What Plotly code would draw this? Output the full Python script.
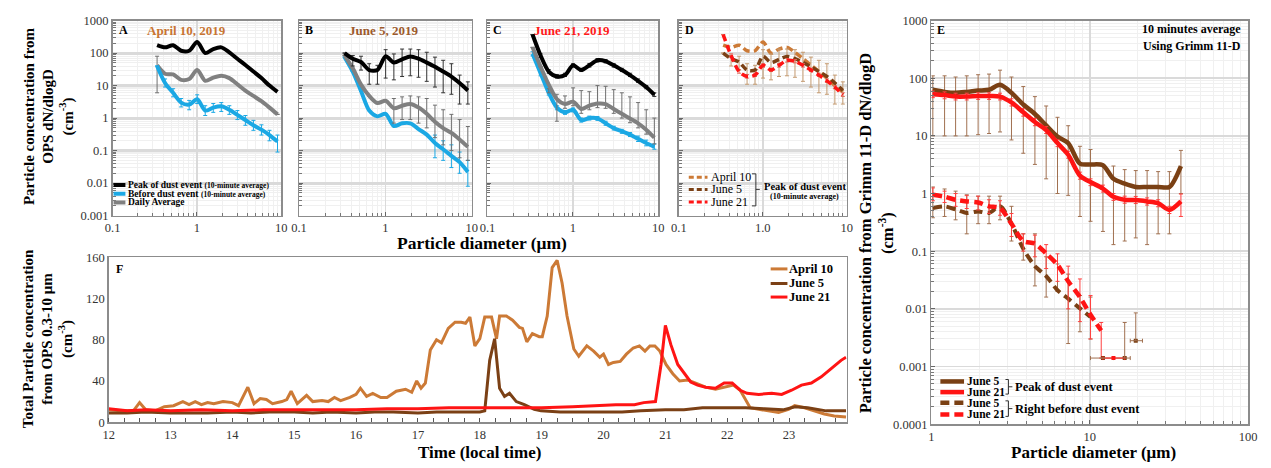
import plotly.graph_objects as go

W, H = 1271, 468
FONT = "Liberation Serif"

def px(x):
    return x / W

def py(y):
    return 1 - y / H

# ---------------- DATA ----------------
ops_d = [0.337, 0.419, 0.522, 0.650, 0.809, 1.007, 1.254, 1.562, 1.944, 2.421,
         3.014, 3.752, 4.672, 5.816, 7.241, 9.016]

# Panel A (April 10, 2019)
A_peak = [175, 150, 175, 118, 118, 220, 100, 133, 150, 105, 67, 43, 27, 17, 10, 6.4]
A_before = [40, 12, 6.0, 3.0, 2.6, 3.8, 1.7, 2.1, 2.3, 1.8, 1.25, 0.87, 0.6, 0.44, 0.3, 0.19]
A_before_hi = [None, 16, 8, 4, 3.5, 5.2, 2.4, 2.8, 3.0, 2.4, 1.7, 1.2, 0.85, 0.62, 0.42, 0.3]
A_before_lo = [None, 9, 4.5, 2.2, 1.8, 2.8, 1.2, 1.5, 1.6, 1.3, 0.9, 0.6, 0.42, 0.3, 0.2, 0.09]
A_daily = [42, 23, 22, 15, 16, 30, 14, 17.5, 20, 17, 11, 7, 4.8, 3.3, 2.1, 1.3]
A_daily_hi = [80] + [None] * 15
A_daily_lo = [6] + [None] * 15

# Panel B (June 5, 2019)
B_peak = [100, 67, 53, 30, 30, 80, 51, 64, 79, 67, 51, 38, 27, 19, 12, 7.1]
B_peak_hi = [None, 84, 80, 47, 42, 127, 94, 133, 133, 127, 106, 75, 60, 47, 21, 13]
B_peak_lo = [None, 40, 30, 11, 11, 17, 15, 19, 20, 18, 13.5, 9, 6, 5.4, 2.7, 2.7]
B_daily = [84, 34, 10.7, 4.8, 2.9, 3.4, 2.0, 2.4, 2.7, 2.1, 1.35, 0.77, 0.49, 0.35, 0.22, 0.13]
B_daily_hi = [None] * 6 + [4.0, 4.5, 4.8, 4.5, 4.0, 2.5, 1.8, 1.3, 0.9, 0.55]
B_daily_lo = [None] * 6 + [0.7, 0.9, 0.9, 0.7, 0.5, 0.25, 0.15, 0.1, 0.06, 0.05]
B_before = [75, 27, 6.8, 1.7, 1.13, 1.35, 0.57, 0.69, 0.69, 0.46, 0.31, 0.17, 0.11, 0.069, 0.044, 0.022]
B_before_hi = [None] * 11 + [0.3, 0.2, 0.15, 0.09, 0.05]
B_before_lo = [None] * 11 + [0.06, 0.05, 0.03, 0.02, 0.008]

# Panel C (June 21, 2019)
C_peak = [372, 84, 27, 19, 21, 42, 30, 42, 60, 56, 42, 30, 21, 14, 9, 5.2]
C_peak_hi = [None, 95, 31, 22, 24, 47, 34, 48, 68, 63, 47, 34, 24, 16, 10, 6]
C_peak_lo = [None, 74, 24, 17, 19, 37, 27, 37, 53, 50, 37, 27, 19, 12.5, 8, 4.6]
C_daily = [150, 38, 10.7, 3.8, 2.7, 3.2, 1.9, 2.4, 2.8, 2.7, 1.9, 1.35, 0.97, 0.69, 0.44, 0.25]
C_daily_hi = [None, None, 6.0, 5.4, 4.8, 8.5, 7, 6.5, 10, 9.5, 7.5, 6, 4.5, 3.0, 1.8, 1.0]
C_daily_lo = [None, None, 8, 0.8, 2.0, 2.4, 1.4, 1.8, 2.1, 2.0, 1.4, 1.0, 0.72, 0.5, 0.32, 0.16]
C_before = [95, 24, 6.0, 2.1, 1.5, 1.8, 0.87, 1.0, 0.98, 0.69, 0.49, 0.39, 0.31, 0.23, 0.17, 0.13]
C_before_hi = [110, 28, 7, 2.4, 1.7, 2.05, 1.0, 1.15, 1.12, 0.8, 0.56, 0.45, 0.36, 0.28, 0.21, 0.16]
C_before_lo = [82, 20, 5.1, 1.8, 1.3, 1.55, 0.75, 0.87, 0.85, 0.6, 0.43, 0.34, 0.27, 0.19, 0.14, 0.11]

# Panel E (Grimm 11-D)
grimm_d = [1.02, 1.21, 1.42, 1.67, 1.97, 2.31, 2.71, 3.2, 3.8, 4.5, 5.3, 6.25, 7.3,
           8.66, 10.1, 12.1, 14.1, 16.6, 19.5, 23, 27, 31.8, 37.6]
E_j5_peak = [63, 58, 56, 58, 61, 63, 77, 56, 35, 24, 15.2, 9.7, 7.5, 3.3, 3.2, 3.1,
             1.8, 1.48, 1.3, 1.3, 1.3, 1.3, 3.0]
E_j5_peak_hi = [110, 110, 105, 110, 115, 118, 138, 105, 72, 48, 33, 21, 15, 6.6, 5.8,
                3.1, 3.0, 2.6, 2.5, 2.5, 2.4, 2.4, 5.6]
E_j5_peak_lo = [10, 10, 10, 10, 10.5, 11, 11.7, 8.5, 5, 3.2, 1.8, 1.0, 0.93, 0.4, 0.33,
                0.22, 0.13, 0.15, 0.17, 0.13, 0.2, 0.2, 1.0]
E_j21_peak = [53, 51, 48, 48, 49, 49, 48, 38, 25.6, 17.4, 12.6, 7.5, 4.7, 2.04, 1.58,
              1.22, 0.88, 0.78, 0.77, 0.73, 0.68, 0.52, 0.73]
E_j21_peak_hi = [60, 58, 55, 55, 56, 56, 55, 44, 29.5, 20, 14.5, 8.6, 5.4, 2.35, 1.8,
                 1.4, 1.0, 0.9, 0.89, 0.84, 0.78, 0.6, 0.98]
E_j21_peak_lo = [46, 44, 42, 42, 43, 43, 42, 33, 22, 15, 11, 6.5, 4.1, 1.77, 1.37,
                 1.06, 0.76, 0.68, 0.67, 0.63, 0.59, 0.45, 0.4]
E_j5_before_d = [1.02, 1.21, 1.42, 1.67, 1.97, 2.31, 2.71, 3.2, 3.8, 4.5, 5.3, 6.25, 7.3, 8.66, 10.1]
E_j5_before = [0.56, 0.6, 0.53, 0.46, 0.49, 0.46, 0.6, 0.3, 0.11, 0.055, 0.037, 0.021, 0.015, 0.0102, 0.0072]
E_j5_before_hi = [1.3, 1.2, 1.1, 0.95, 0.9, 0.9, 0.9, 0.6, 0.2, 0.2, 0.08, 0.06, 0.04, 0.017, 0.016]
E_j5_before_lo = [0.38, 0.4, 0.35, 0.2, 0.3, 0.3, 0.35, 0.15, 0.07, 0.025, 0.016, 0.02, 0.0025, 0.004, 0.003]
E_j21_before_d = [1.02, 1.21, 1.42, 1.67, 1.97, 2.31, 2.71, 3.2, 3.8, 4.5, 5.3, 6.25, 7.3, 8.66, 10.1, 11.8]
E_j21_before = [0.95, 0.88, 0.78, 0.73, 0.70, 0.60, 0.56, 0.3, 0.15, 0.135, 0.091, 0.058, 0.03, 0.016, 0.0079, 0.0042]
E_j21_before_hi = [1.25, 1.1, 1.0, 0.93, 0.9, 0.78, 0.75, 0.45, 0.2, 0.19, 0.13, 0.09, 0.055, 0.033, 0.017, 0.0058]
E_j21_before_lo = [0.75, 0.7, 0.6, 0.55, 0.52, 0.45, 0.42, 0.18, 0.1, 0.08, 0.05, 0.03, 0.01, 0.006, 0.003, 0.0014]
E_j5_iso_d = [12.1, 16.6, 19.5]
E_j5_iso = [0.0014, 0.0014, 0.0028]
E_j5_iso_dlo = [10.1, 14.1, 18.0]
E_j5_iso_dhi = [14.1, 18.0, 21.5]
E_j5_iso_hi = [None, 0.0058, 0.0085]
E_j21_iso_d = [14.1]
E_j21_iso = [0.0014]
E_j21_iso_dlo = [12.1]
E_j21_iso_dhi = [16.6]

# Panel F (time series, local time in hours)
t_apr = [12.0, 12.2, 12.4, 12.5, 12.6, 12.75, 12.9, 13.05, 13.2, 13.3, 13.4, 13.5, 13.6, 13.7,
         13.85, 14.0, 14.1, 14.25, 14.35, 14.45, 14.55, 14.65, 14.8, 14.88, 14.95, 15.05, 15.2,
         15.3, 15.45, 15.55, 15.65, 15.75, 15.9, 16.0, 16.07, 16.17, 16.27, 16.4, 16.5, 16.65,
         16.8, 16.9, 16.98, 17.05, 17.12, 17.2, 17.3, 17.38, 17.49, 17.6, 17.7, 17.77, 17.84,
         17.92, 18.0, 18.08, 18.19, 18.27, 18.32, 18.43, 18.53, 18.64, 18.69, 18.76, 18.85,
         18.96, 19.01, 19.09, 19.17, 19.25, 19.33, 19.41, 19.52, 19.6, 19.73, 19.84, 19.94,
         20.0, 20.08, 20.16, 20.27, 20.37, 20.48, 20.58, 20.67, 20.75, 20.83, 20.91, 21.01,
         21.12, 21.23, 21.36, 21.49, 21.65, 21.81, 21.97, 22.1, 22.21, 22.29, 22.37, 22.51,
         22.67, 22.83, 22.99, 23.09, 23.25, 23.41, 23.57, 23.73, 23.92]
v_apr = [12, 11, 11, 19, 12, 11, 15, 16, 20, 17, 20, 17, 19, 18,
         20, 19, 16, 34, 18, 23, 22, 18, 20, 22, 30, 18, 26,
         20, 21, 20, 24, 21, 24, 27, 33, 25, 28, 24, 24, 30,
         32, 29, 40, 33, 38, 70, 80, 77, 91, 97, 97, 96, 102,
         74, 81, 102, 102, 81, 103, 103, 99, 92, 91, 78, 86,
         83, 83, 103, 150, 157, 135, 103, 71, 64, 74, 69, 63,
         66, 56, 58, 59, 66, 72, 74, 69, 74, 74, 69, 56,
         47, 40, 41, 38, 34, 32, 34, 36, 31, 22, 14, 12.5,
         11, 9.5, 12.5, 16, 14, 11, 8, 6, 5]
t_jun5 = [12.0, 12.3, 12.6, 13.0, 13.3, 13.6, 14.0, 14.3, 14.6, 15.0, 15.3, 15.6, 16.0, 16.3,
          16.6, 17.0, 17.3, 17.6, 18.0, 18.08, 18.16, 18.24, 18.32, 18.4, 18.48, 18.59, 18.72,
          18.88, 18.99, 19.3, 19.6, 20.0, 20.3, 20.6, 21.0, 21.3, 21.6, 22.0, 22.3, 22.6, 22.9,
          23.1, 23.3, 23.6, 23.92]
v_jun5 = [9, 9, 10, 9, 9, 9, 10, 9, 10, 10, 9, 10, 9, 10,
          10, 9, 10, 10, 10, 11, 60, 81, 33, 25, 28, 20, 17,
          12.5, 11, 10, 10, 9.5, 10, 11, 12, 12, 14, 14, 14, 13, 12,
          15, 14, 11, 11]
t_jun21 = [12.0, 12.3, 12.6, 13.0, 13.5, 14.0, 14.5, 15.0, 15.5, 16.0, 16.5, 17.0, 17.5, 18.0,
           18.5, 19.0, 19.5, 19.8, 20.2, 20.5, 20.65, 20.84, 20.93, 21.0, 21.09, 21.2, 21.31,
           21.41, 21.52, 21.65, 21.81, 21.95, 22.08, 22.21, 22.32, 22.51, 22.72, 22.88, 23.04,
           23.2, 23.36, 23.52, 23.68, 23.84, 23.92]
v_jun21 = [13, 11, 12, 11, 12, 11, 12, 12, 12, 12, 13, 13, 14, 14,
           14, 14, 15, 16, 17, 17, 19, 20, 56, 94, 75, 56, 47,
           39, 36, 34, 33, 38, 38, 31, 28, 27, 28, 27, 31,
           36, 38, 44, 52, 60, 63]

# ---------------- STYLE ----------------
BLACK = "#000000"
BLUE = "#1BA8E4"
GRAY = "#808080"
ORANGE = "#CC7A36"
BROWN = "#7B4015"
RED = "#FF1414"
EBROWN = "#A07050"


def errs(v, hi, lo):
    plus = [None if h is None else h - a for a, h in zip(v, hi)]
    minus = [None if l is None else a - l for a, l in zip(v, lo)]
    return plus, minus


def minor_log(e0, e1):
    vals = []
    for e in range(e0, e1):
        for k in range(2, 10):
            vals.append(k * 10 ** e)
    return vals


fig = go.Figure()


def add_line(x, y, color, width, axis, dash=None, hi=None, lo=None, ecolor=None, shape="spline"):
    kw = {}
    if hi is not None:
        p, m = errs(y, hi, lo)
        kw["error_y"] = dict(type="data", symmetric=False, array=p, arrayminus=m,
                             color=ecolor or color, thickness=1, width=2)
    fig.add_trace(go.Scatter(
        x=x, y=y, mode="lines", xaxis="x" + axis, yaxis="y" + axis,
        line=dict(color=color, width=width, shape=shape, smoothing=0.8,
                  dash=dash if dash else "solid"),
        showlegend=False, hoverinfo="skip", **kw))


# Panel A
add_line(ops_d, A_daily, GRAY, 4, "", hi=A_daily_hi, lo=A_daily_lo, ecolor="#707070")
add_line(ops_d, A_before, BLUE, 4, "", hi=A_before_hi, lo=A_before_lo)
add_line(ops_d, A_peak, BLACK, 4, "")
# Panel B
add_line(ops_d, B_before, BLUE, 4, "2", hi=B_before_hi, lo=B_before_lo)
add_line(ops_d, B_daily, GRAY, 4, "2", hi=B_daily_hi, lo=B_daily_lo, ecolor="#707070")
add_line(ops_d, B_peak, BLACK, 4, "2", hi=B_peak_hi, lo=B_peak_lo, ecolor="#333333")
# Panel C
add_line(ops_d, C_before, BLUE, 4, "3", hi=C_before_hi, lo=C_before_lo)
add_line(ops_d, C_daily, GRAY, 4, "3", hi=C_daily_hi, lo=C_daily_lo, ecolor="#707070")
add_line(ops_d, C_peak, BLACK, 4, "3", hi=C_peak_hi, lo=C_peak_lo, ecolor="#333333")
# Panel D
add_line(ops_d, A_peak, ORANGE, 3.5, "4", dash="7px,4px")
add_line(ops_d, B_peak, BROWN, 3.5, "4", dash="7px,4px", hi=B_peak_hi, lo=B_peak_lo, ecolor="#C49A70")
add_line(ops_d, C_peak, RED, 3.5, "4", dash="7px,4px", hi=C_peak_hi, lo=C_peak_lo, ecolor="#E07060")
# Panel E
add_line(grimm_d, E_j5_peak, "#7A4014", 4.5, "5", hi=E_j5_peak_hi, lo=E_j5_peak_lo, ecolor=EBROWN)
add_line(grimm_d, E_j21_peak, RED, 4.5, "5", hi=E_j21_peak_hi, lo=E_j21_peak_lo, ecolor="#FF4040")
add_line(E_j5_before_d, E_j5_before, "#7A4014", 4, "5", dash="9px,5px",
         hi=E_j5_before_hi, lo=E_j5_before_lo, ecolor=EBROWN)
add_line(E_j21_before_d, E_j21_before, RED, 4.5, "5", dash="9px,5px",
         hi=E_j21_before_hi, lo=E_j21_before_lo, ecolor="#FF4040")

for xs, ys, xlo, xhi, col in [(E_j5_iso_d, E_j5_iso, E_j5_iso_dlo, E_j5_iso_dhi, "#7A4014"),
                              (E_j21_iso_d, E_j21_iso, E_j21_iso_dlo, E_j21_iso_dhi, RED)]:
    fig.add_trace(go.Scatter(
        x=xs, y=ys, mode="markers", xaxis="x5", yaxis="y5",
        marker=dict(color=col, size=4, symbol="square"),
        error_x=dict(type="data", symmetric=False,
                     array=[h - a for a, h in zip(xs, xhi)],
                     arrayminus=[a - l for a, l in zip(xs, xlo)],
                     color=col if col == RED else EBROWN, thickness=1, width=2),
        showlegend=False, hoverinfo="skip"))
fig.add_trace(go.Scatter(
    x=E_j5_iso_d, y=E_j5_iso, mode="markers", xaxis="x5", yaxis="y5",
    marker=dict(color="rgba(0,0,0,0)", size=1),
    error_y=dict(type="data", symmetric=False,
                 array=[None if h is None else h - a for a, h in zip(E_j5_iso, E_j5_iso_hi)],
                 arrayminus=[0, 0, 0], color=EBROWN, thickness=1, width=2),
    showlegend=False, hoverinfo="skip"))

# Panel F
add_line(t_apr, v_apr, ORANGE, 3, "6", shape="linear")
add_line(t_jun5, v_jun5, BROWN, 3, "6", shape="linear")
add_line(t_jun21, v_jun21, RED, 3, "6", shape="linear")

# ---------------- AXES ----------------
TICKFONT = dict(family=FONT, size=12.5, color="#333333")
FRAME = dict(showline=True, linecolor="#8C8C8C", linewidth=1.5, mirror=True, zeroline=False)


def log_axis(dom, anchor, e0, e1, labels, ticktext=None, major_w=1.5):
    vals = [10 ** e for e in range(e0, e1 + 1)]
    d = dict(type="log", domain=dom, anchor=anchor, range=[e0, e1],
             tickmode="array", tickvals=vals,
             showticklabels=labels, tickfont=TICKFONT,
             ticks="inside", ticklen=4, tickcolor="#666666",
             showgrid=True, gridcolor="#DADADA", gridwidth=major_w,
             minor=dict(tickmode="array", tickvals=minor_log(e0, e1), ticks="inside",
                        ticklen=3, tickcolor="#777777", showgrid=True,
                        gridcolor="#F0F0F0", gridwidth=1),
             **FRAME)
    if ticktext is not None:
        d["ticktext"] = ticktext
    return d


ylab_ops = ["0.001", "0.01", "0.1", "1", "10", "100", "1000"]
ylab_e = ["0.0001", "0.001", "0.01", "0.1", "1", "10", "100", "1000"]
ydomA = [py(215), py(14)]

layout = dict(
    width=W, height=H, autosize=False, margin=dict(l=0, r=0, t=0, b=0, pad=0),
    paper_bgcolor="white", plot_bgcolor="white", showlegend=False,
    font=dict(family=FONT, color="#000000"),
    xaxis=log_axis([px(106), px(277)], "y", -1, 1, True, ["0.1", "1", "10"]),
    yaxis=log_axis(ydomA, "x", -3, 3, True, ylab_ops, major_w=3),
    xaxis2=log_axis([px(295), px(470)], "y2", -1, 1, True, ["0.1", "1", "10"]),
    yaxis2=log_axis(ydomA, "x2", -3, 3, False, major_w=3),
    xaxis3=log_axis([px(486), px(659)], "y3", -1, 1, True, ["0.1", "1", "10"]),
    yaxis3=log_axis(ydomA, "x3", -3, 3, False, major_w=3),
    xaxis4=log_axis([px(680), px(850)], "y4", -1, 1, True, ["0.1", "1.0", "10"]),
    yaxis4=log_axis(ydomA, "x4", -3, 3, False, major_w=3),
    xaxis5=log_axis([px(936), px(1257)], "y5", 0, 2, True, ["1", "10", "100"]),
    yaxis5=log_axis([py(430), py(14)], "x5", -4, 3, True, ylab_e, major_w=1.5),
    xaxis6=dict(domain=[px(102), px(850)], anchor="y6", range=[12, 23.93],
                tickmode="array", tickvals=list(range(12, 24)), tickfont=TICKFONT,
                ticks="", showgrid=False,
                minor=dict(dtick=0.25, tick0=12, ticks="inside", ticklen=4, tickcolor="#555555"),
                **FRAME),
    yaxis6=dict(domain=[py(428), py(258)], anchor="x6", range=[0, 160],
                tickmode="array", tickvals=[0, 40, 80, 120, 160], tickfont=TICKFONT,
                ticks="", showgrid=False, **FRAME),
)
fig.update_layout(**layout)

# ---------------- ANNOTATIONS ----------------
ann = []


def text(x, y, s, size, color="#000000", xanchor="center", angle=0, align="center", yanchor="middle"):
    ann.append(dict(x=px(x), y=py(y), xref="paper", yref="paper", text=s, showarrow=False,
                    font=dict(family=FONT, size=size, color=color), xanchor=xanchor,
                    yanchor=yanchor, textangle=angle, align=align))


# panel letters and titles
for lx, ly, l in [(110, 24, "A"), (299, 24, "B"), (490, 24, "C"), (684, 24, "D"),
                  (940, 24, "E"), (107, 270, "F")]:
    text(lx, ly, "<b>%s</b>" % l, 12, xanchor="left")
text(181, 24, "<b>April 10, 2019</b>", 13, color="#C87533")
text(381, 24, "<b>June 5, 2019</b>", 13, color="#9C5A2C")
text(572, 24, "<b>June 21, 2019</b>", 13, color="#FF1A1A")

# axis titles
text(41, 112, "<b>Particle concentration from<br>OPS dN/dlogD<br>(cm<sup>-3</sup>)</b>", 15, angle=-90)
text(480, 243, "<b>Particle diameter (μm)</b>", 17.5)
text(40, 342, "<b>Total Particle concentration<br>from OPS 0.3-10 μm<br>(cm<sup>-3</sup>)</b>", 15, angle=-90)
text(478, 459, "<b>Time (local time)</b>", 17)
text(880, 233, "<b>Particle concentration from Grimm 11-D dN/dlogD<br>(cm<sup>-3</sup>)</b>", 16.5, angle=-90)
text(1100, 459.5, "<b>Particle diameter (μm)</b>", 17)
text(1252, 23, "<b>10 minutes average</b>", 12, xanchor="right")
text(1252, 40, "<b>Using Grimm 11-D</b>", 12, xanchor="right")

shapes = []


def sample(x0, x1, y, color, width, dash="solid"):
    shapes.append(dict(type="line", xref="paper", yref="paper", x0=px(x0), x1=px(x1),
                       y0=py(y), y1=py(y), line=dict(color=color, width=width, dash=dash)))


def seg(x0, y0, x1, y1, color="#333333", width=1):
    shapes.append(dict(type="line", xref="paper", yref="paper", x0=px(x0), x1=px(x1),
                       y0=py(y0), y1=py(y1), line=dict(color=color, width=width)))


# Legend A
small = "<span style='font-size:7.5px'>%s</span>"
for y, col, lab in [(183.5, BLACK, "Peak of dust event " + small % "(10-minute average)"),
                    (192.5, BLUE, "Before dust event " + small % "(10-minute average)"),
                    (201.5, GRAY, "Daily Average")]:
    sample(107, 119, y, col, 4)
    text(119.5, y, "<b>%s</b>" % lab, 9.5, xanchor="left")

# Legend D
for y, col, lab in [(175.5, ORANGE, "April 10"), (188, BROWN, "June 5"), (201, RED, "June 21")]:
    sample(690, 709, y, col, 3, dash="5px,3px")
    text(710, y, lab, 12, xanchor="left")
seg(754, 172, 758, 172)
seg(758, 172, 758, 205)
seg(754, 205, 758, 205)
seg(758, 188, 762, 188)
text(808, 185, "<b>Peak of dust event</b>", 10.5)
text(807, 195, "<b>(10-minute average)</b>", 8)

# Legend E
for y, col, lab, dsh in [(386, "#7A4014", "June 5", "solid"), (397, RED, "June 21", "solid"),
                         (408, "#7A4014", "June 5", "9px,5px"), (420, RED, "June 21", "9px,5px")]:
    sample(945, 969, y, col, 4.5, dash=dsh)
    text(970, y, "<b>%s</b>" % lab, 11.5, xanchor="left")
seg(1011, 384, 1014, 384)
seg(1014, 384, 1014, 399)
seg(1011, 399, 1014, 399)
seg(1014, 391.5, 1018, 391.5)
seg(1011, 406, 1014, 406)
seg(1014, 406, 1014, 422)
seg(1011, 422, 1014, 422)
seg(1014, 414, 1018, 414)
text(1019, 392, "<b>Peak of dust event</b>", 12.5, xanchor="left")
text(1019, 414.5, "<b>Right before dust event</b>", 12.5, xanchor="left")

# Legend F
for y, col, lab in [(270, ORANGE, "April 10"), (285, BROWN, "June 5"), (299, RED, "June 21")]:
    sample(773, 790, y, col, 3)
    text(790, y, "<b>%s</b>" % lab, 12.5, xanchor="left")

fig.update_layout(annotations=ann, shapes=shapes)

post = ("document.documentElement.style.margin='0';document.body.style.margin='0';"
        "document.body.style.padding='0';document.body.style.overflow='hidden';"
        "var gd=document.getElementById('{plot_id}');"
        "Plotly.relayout(gd,{width:%d,height:%d});" % (W, H))
fig.write_html("out.html", post_script=post,
               config={"responsive": False, "displayModeBar": False, "staticPlot": True})
